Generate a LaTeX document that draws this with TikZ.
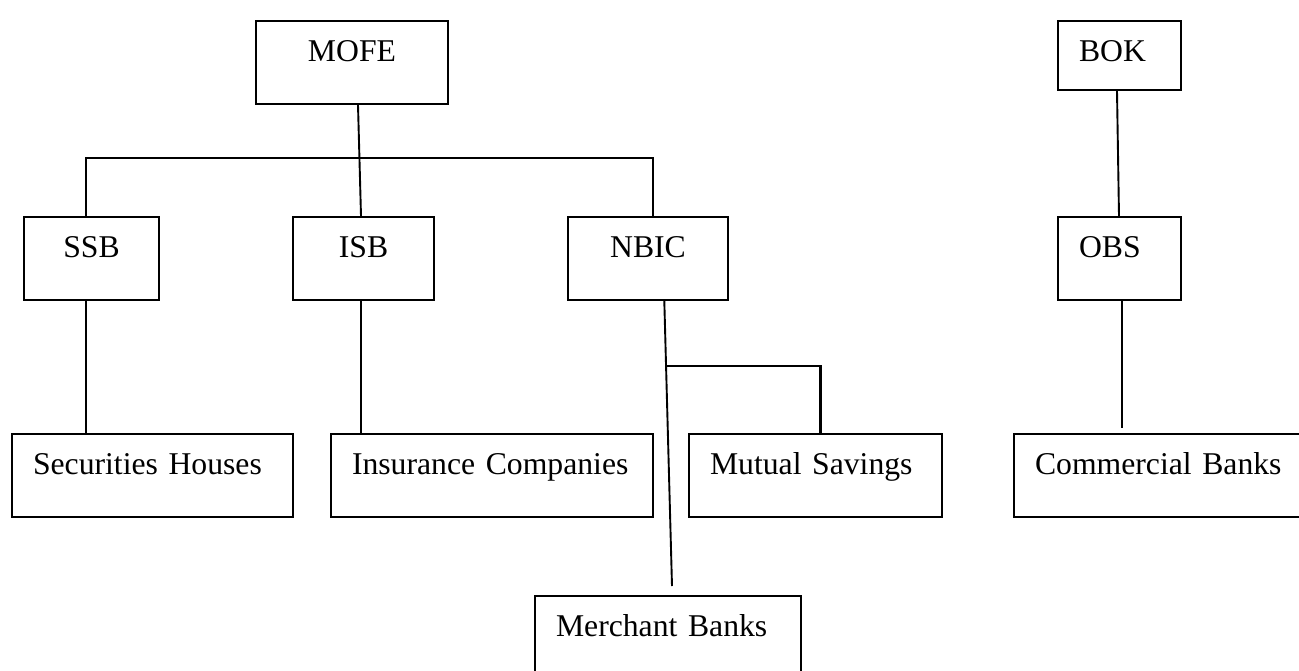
\documentclass[tikz,border=0pt]{standalone}
\usepackage{fontspec}
\setmainfont{Liberation Serif}
\usetikzlibrary{calc}
\tikzset{
  box/.style={draw, line width=2pt, anchor=north west, inner ysep=0pt,
    text height=40pt, text depth=43pt,
    font=\fontsize{31.7pt}{38pt}\selectfont},
  cbox/.style={box, inner xsep=0pt, align=center},
  lbox/.style={box, inner xsep=21pt, align=left},
  link/.style={line width=1.9pt}
}
\begin{document}
\begin{tikzpicture}[x=1pt,y=-1pt]
\useasboundingbox (0,0) rectangle (1299,670);
% top level
\node[cbox, text width=192pt] (mofe) at (255,20) {MOFE};
\node[lbox, text width=81pt, text depth=29pt] (bok) at (1057,20) {BOK};
% middle level
\node[cbox, text width=135pt] (ssb) at (23,216) {SSB};
\node[cbox, text width=141pt] (isb) at (292,216) {ISB};
\node[cbox, text width=160pt] (nbic) at (567,216) {NBIC};
\node[lbox, text width=81pt] (obs) at (1057,216) {OBS};
% lower level
\node[lbox, text width=239pt] (sec) at (11,433) {Securities Houses};
\node[lbox, text width=280pt] (ins) at (330,433) {Insurance Companies};
\node[lbox, text width=211pt] (mut) at (688,433) {Mutual Savings};
\node[lbox, text width=258pt] (com) at (1013,433) {Commercial Banks};
\node[lbox, text width=224pt] (mer) at (534,595) {Merchant Banks};
% connectors
\draw[link] ([xshift=6pt]mofe.south) -- ([xshift=-2.5pt]isb.north);
\draw[link] ([xshift=-5.5pt]ssb.north) -- ++(0,-58) -| ([xshift=5pt]nbic.north);
\draw[link, line width=2.4pt] (358,158) -- (377,158);
\draw[link] ([xshift=-5.5pt]ssb.south) -- ([xshift=-5.5pt]ssb.south |- sec.north);
\draw[link] ([xshift=-2.5pt]isb.south) -- ([xshift=-2.5pt]isb.south |- ins.north);
\draw[link] ([xshift=16.3pt]nbic.south) -- ([xshift=4pt,yshift=9pt]mer.north)
  coordinate[pos=0.2265] (br);
\draw[link, line width=2.1pt] (br) -| ([xshift=5pt]mut.north);
\draw[link] ([xshift=-2.5pt]bok.south) -- ([xshift=-0.5pt]obs.north);
\draw[link] ([xshift=2.2pt]obs.south) -- ([xshift=2.2pt,yshift=5pt]obs.south |- com.north);
\end{tikzpicture}
\end{document}
